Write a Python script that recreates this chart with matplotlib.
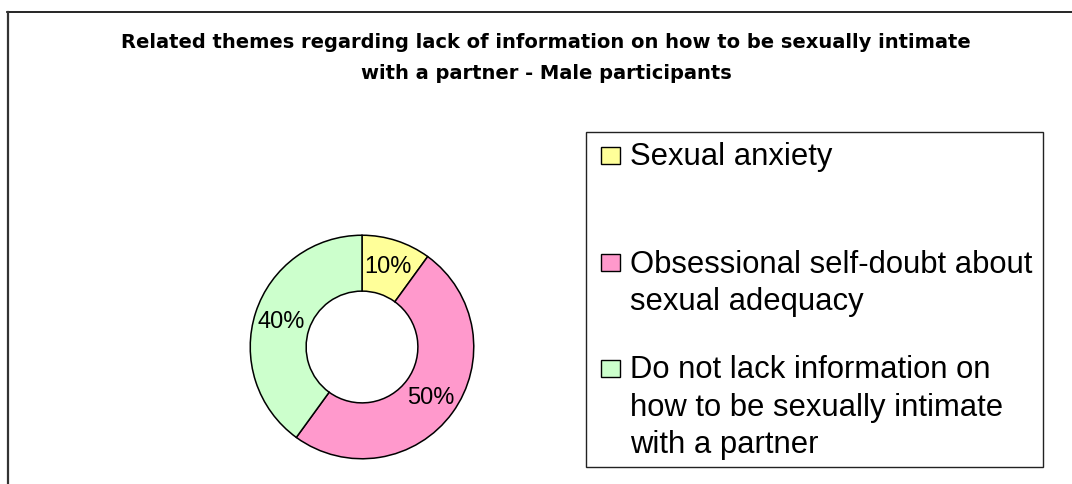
import matplotlib
matplotlib.use("Agg")
import matplotlib.pyplot as plt
from matplotlib.patches import Rectangle
from matplotlib.lines import Line2D

# Chart content
title_lines = [
    "Related themes regarding lack of information on how to be sexually intimate",
    "with a partner - Male participants",
]
categories = [
    "Sexual anxiety",
    "Obsessional self-doubt about\nsexual adequacy",
    "Do not lack information on\nhow to be sexually intimate\nwith a partner",
]
shares = [10, 50, 40]
colors = ["#FFFF99", "#FF99CC", "#CCFFCC"]

W, H = 1072, 485
fig = plt.figure(figsize=(W / 100, H / 100), dpi=100)
fig.patch.set_facecolor("white")
plt.rcParams["font.family"] = ["Liberation Sans", "DejaVu Sans"]


def px(x, y):
    """Pixel position (from top-left) to figure fraction."""
    return x / W, 1 - y / H


# Outer chart frame (top and left edges visible)
fig.add_artist(Line2D([7 / W, 1.0], [1 - 12.5 / H] * 2, transform=fig.transFigure,
                      color="black", lw=1.2))
fig.add_artist(Line2D([7.5 / W] * 2, [1 - 12.5 / H, 0.0], transform=fig.transFigure,
                      color="#333333", lw=1.6))

# Title
for i, line in enumerate(title_lines):
    x, y = px(546, 48 + i * 30.6)
    fig.text(x, y, line, ha="center", va="baseline", fontsize=14,
             fontweight="bold", color="black", family=["DejaVu Sans"])

# Doughnut
cx, cy, r = 362, 348, 114
ax = fig.add_axes([(cx - r) / W, (H - cy - r) / H, 2 * r / W, 2 * r / H])
wedges, texts, autotexts = ax.pie(
    shares, colors=colors, startangle=90, counterclock=False, radius=1.0,
    autopct="%d%%", pctdistance=0.76,
    wedgeprops=dict(width=0.5, edgecolor="black", linewidth=1.1),
    textprops=dict(fontsize=17, color="black"),
)
ax.set_xlim(-1.02, 1.02)
ax.set_ylim(-1.02, 1.02)
ax.set_aspect("equal")
ax.axis("off")

# Legend box
lx0, ly0, lx1, ly1 = 586, 133, 1043, 468
fig.add_artist(Rectangle(px(lx0, ly1), (lx1 - lx0) / W, (ly1 - ly0) / H,
                         transform=fig.transFigure, facecolor="white",
                         edgecolor="#222222", lw=1.0))
entry_baselines = [165, 272.7, 378.3]
line_step = 37.5
for label, color, base in zip(categories, colors, entry_baselines):
    sx, sy = px(601, base - 0.5)
    fig.add_artist(Rectangle((sx, sy), 19 / W, 17 / H, transform=fig.transFigure,
                             facecolor=color, edgecolor="black", lw=1.0))
    for j, part in enumerate(label.split("\n")):
        tx, ty = px(630, base + j * line_step)
        fig.text(tx, ty, part, ha="left", va="baseline", fontsize=22.3, color="black")

fig.savefig("out.png", dpi=100, facecolor="white")
